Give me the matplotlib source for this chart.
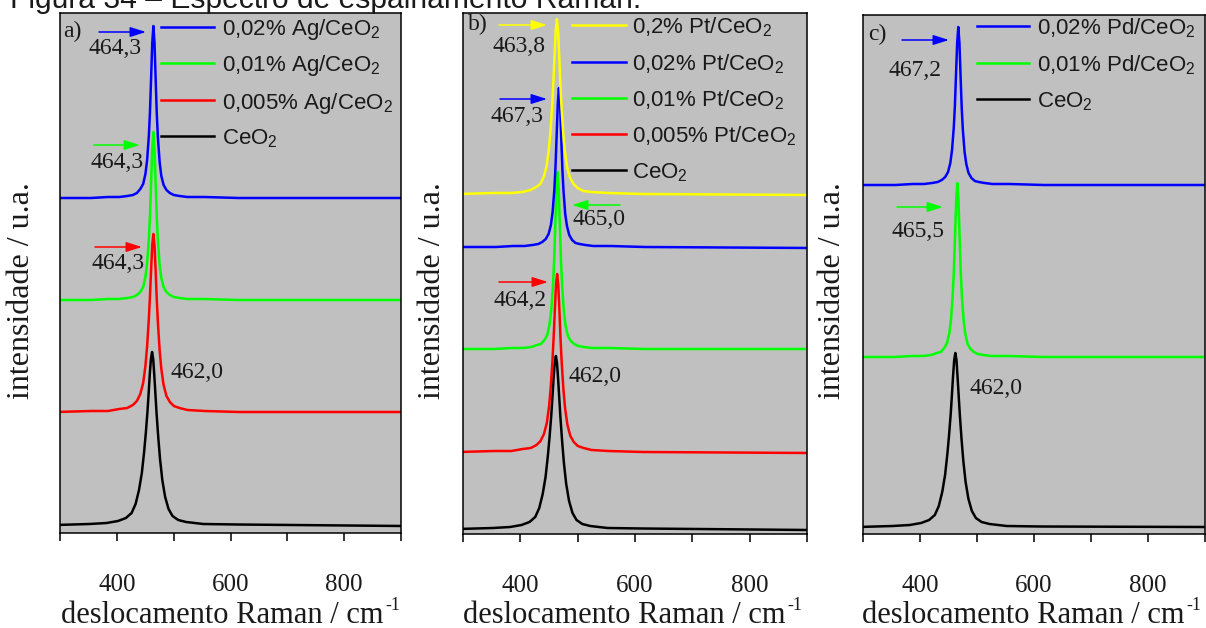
import matplotlib
matplotlib.use("Agg")
import matplotlib.pyplot as plt
from matplotlib.lines import Line2D
from matplotlib.patches import FancyArrowPatch
from matplotlib.ticker import FixedLocator

plt.rcParams["mathtext.fontset"] = "custom"
plt.rcParams["mathtext.rm"] = "Liberation Sans"
plt.rcParams["mathtext.it"] = "Liberation Sans:italic"
plt.rcParams["mathtext.bf"] = "Liberation Sans:bold"

# ---------------------------------------------------------------------------
# Raman spectra (intensity in arbitrary units, curves stacked with offsets).
# Each curve is sampled at its band position plus these offsets (cm-1).
# ---------------------------------------------------------------------------
offsets = [-170, -110, -80, -60, -46, -36, -29, -23, -18, -14, -11, -8, -6, -4, -2, 0,
           2, 4, 6, 8, 11, 14, 18, 23, 29, 36, 46, 60, 90, 150, 440]

# a) Ag/CeO2
a_labels = ["0,02% Ag/CeO$_2$", "0,01% Ag/CeO$_2$", "0,005% Ag/CeO$_2$", "CeO$_2$"]
a_colors = ["#0000ff", "#00ff00", "#ff0000", "#000000"]
a_peaks = [464.3, 464.3, 464.3, 462.0]
a_ag002 = [335, 335, 336, 336, 337, 338, 340, 344, 349, 359, 373, 397, 421, 455, 490, 507,
           490, 454, 419, 395, 371, 357, 348, 343, 340, 338, 337, 336, 336, 335, 335]
a_ag001 = [233, 233, 234, 234, 235, 236, 238, 241, 246, 256, 270, 294, 317, 351, 384, 401,
           384, 349, 315, 292, 268, 255, 246, 241, 238, 236, 235, 234, 234, 233, 233]
a_ag0005 = [121, 122, 122, 124, 125, 128, 132, 139, 150, 167, 187, 214, 237, 263, 288, 299,
            288, 262, 233, 210, 183, 164, 148, 137, 131, 127, 125, 123, 122, 121, 121]
a_ceo2 = [8, 9, 10, 12, 15, 20, 29, 43, 60, 81, 100, 122, 140, 159, 174, 181,
          174, 157, 138, 119, 95, 74, 53, 36, 24, 17, 13, 11, 9, 8.5, 7]

# b) Pt/CeO2
b_labels = ["0,2% Pt/CeO$_2$", "0,02% Pt/CeO$_2$", "0,01% Pt/CeO$_2$",
            "0,005% Pt/CeO$_2$", "CeO$_2$"]
b_colors = ["#ffff00", "#0000ff", "#00ff00", "#ff0000", "#000000"]
b_peaks = [463.8, 467.3, 465.0, 464.2, 462.0]
b_pt02 = [340, 341, 341, 342, 344, 347, 350, 357, 368, 385, 405, 431, 454, 480, 504, 515,
          504, 478, 450, 427, 401, 382, 366, 356, 350, 346, 343, 342, 341, 340, 339]
b_pt002 = [287, 287, 288, 288, 289, 290, 292, 295, 300, 309, 322, 344, 367, 398, 430, 446,
           430, 397, 365, 343, 320, 308, 299, 294, 291, 290, 289, 288, 288, 287, 286]
b_pt001 = [185, 185, 186, 186, 187, 189, 190, 194, 199, 210, 224, 249, 274, 309, 344, 362,
           344, 307, 272, 247, 222, 208, 198, 193, 190, 188, 187, 186, 186, 185, 185]
b_pt0005 = [82, 83, 83, 85, 86, 89, 93, 100, 111, 128, 148, 175, 198, 224, 249, 260,
            249, 223, 194, 171, 144, 125, 109, 98, 92, 88, 86, 84, 83, 82, 81]
b_ceo2 = [5, 6, 7, 9, 12, 17, 26, 40, 57, 78, 97, 119, 137, 156, 171, 178,
          171, 154, 135, 116, 92, 71, 50, 33, 21, 14, 10, 8, 6, 5.5, 4]

# c) Pd/CeO2
c_labels = ["0,02% Pd/CeO$_2$", "0,01% Pd/CeO$_2$", "CeO$_2$"]
c_colors = ["#0000ff", "#00ff00", "#000000"]
c_peaks = [467.2, 465.5, 462.0]
c_pd002 = [349, 349, 350, 350, 351, 352, 354, 357, 362, 371, 384, 406, 428, 460, 491, 507,
           491, 458, 426, 404, 382, 370, 361, 356, 353, 352, 351, 350, 350, 349, 349]
c_pd001 = [177, 177, 178, 178, 179, 181, 182, 186, 191, 201, 215, 240, 264, 299, 334, 351,
           334, 297, 262, 238, 214, 200, 190, 185, 182, 180, 179, 178, 178, 177, 177]
c_ceo2 = [7, 8, 9, 11, 14, 19, 28, 42, 59, 80, 99, 121, 139, 158, 174, 181,
          174, 156, 137, 118, 94, 73, 52, 35, 23, 16, 12, 10, 8, 7.5, 7]

xticks_major = [400, 600, 800]
xticks_minor = [300, 500, 700, 900]

W, H = 1206, 628
fig = plt.figure(figsize=(W / 100, H / 100), dpi=100)
fig.patch.set_facecolor("white")

SERIF = "Liberation Serif"
SANS = "Liberation Sans"
TXT = "#1a1a1a"


def add_panel(left, top, right, bottom):
    ax = fig.add_axes([left / W, 1 - bottom / H, (right - left) / W, (bottom - top) / H])
    ax.set_facecolor("#c0c0c0")
    ax.set_xlim(300, 900)
    ax.set_ylim(0, bottom - top)
    ax.xaxis.set_major_locator(FixedLocator(xticks_major))
    ax.xaxis.set_minor_locator(FixedLocator(xticks_minor))
    ax.tick_params(axis="x", which="both", direction="out", length=5.5, width=1.1,
                   top=False, pad=24, labelsize=18, colors="black")
    ax.tick_params(axis="x", which="minor", labelbottom=False)
    ax.tick_params(axis="y", which="both", left=False, labelleft=False)
    for lab in ax.get_xticklabels():
        lab.set_family(SERIF)
        lab.set_color(TXT)
    for sp in ax.spines.values():
        sp.set_linewidth(1.1)
    return ax


def plot_series(ax, peaks, series, colors):
    # bottom-most curve first
    for pk, ys, col in reversed(list(zip(peaks, series, colors))):
        xs = [pk + d for d in offsets]
        ax.plot(xs, ys, color=col, lw=1.8, solid_joinstyle="round")


def legend(entries, colors, x0, x1, xt, rows):
    for lab, col, y in zip(entries, colors, rows):
        fig.add_artist(Line2D([x0 / W, x1 / W], [1 - y / H, 1 - y / H],
                              transform=fig.transFigure, color=col, lw=1.8))
        fig.text(xt / W, 1 - (y + 8.5) / H, lab, family=SANS, fontsize=16,
                 ha="left", va="baseline", color=TXT, math_fontfamily="custom")


def arrow(tail, head, color):
    fig.add_artist(FancyArrowPatch(
        (tail[0] / W, 1 - tail[1] / H), (head[0] / W, 1 - head[1] / H),
        transform=fig.transFigure, arrowstyle="-|>,head_length=0.95,head_width=0.3",
        mutation_scale=10, color=color, lw=1.1, shrinkA=0, shrinkB=0))


def note(x, y, s, size=17):
    fig.text(x / W, 1 - y / H, s, family=SERIF, fontsize=size, ha="center",
             va="center", color=TXT)


# ---- panel a ----
ax_a = add_panel(60, 13, 401, 533)
plot_series(ax_a, a_peaks, [a_ag002, a_ag001, a_ag0005, a_ceo2], a_colors)
legend(a_labels, a_colors, 161, 214, 222, [27, 63, 100, 136])
arrow((99, 32), (146, 32), "#0000ff")
note(115, 49, "464,3")
arrow((94, 145), (140, 145), "#00ff00")
note(117, 162, "464,3")
arrow((95, 247), (142, 247), "#ff0000")
note(118, 263, "464,3")
note(197, 372, "462,0")
note(72, 31, "a)")

# ---- panel b ----
ax_b = add_panel(463, 13, 807, 534)
plot_series(ax_b, b_peaks, [b_pt02, b_pt002, b_pt001, b_pt0005, b_ceo2], b_colors)
legend(b_labels, b_colors, 572, 626, 632, [25, 62, 98, 134, 170])
arrow((499, 25), (547, 25), "#ffff00")
note(519, 46, "463,8")
arrow((500, 99), (547, 99), "#0000ff")
note(517, 117, "467,3")
arrow((620, 205), (572, 205), "#00ff00")
note(599, 220, "465,0")
arrow((499, 282), (548, 282), "#ff0000")
note(520, 301, "464,2")
note(595, 377, "462,0")
note(478, 24, "b)")

# ---- panel c ----
ax_c = add_panel(863, 15, 1205, 534)
plot_series(ax_c, c_peaks, [c_pd002, c_pd001, c_ceo2], c_colors)
legend(c_labels, c_colors, 977, 1029, 1037, [26, 63, 99])
arrow((902, 40), (949, 40), "#0000ff")
note(915, 71, "467,2")
arrow((897, 207), (943, 207), "#00ff00")
note(918, 232, "465,5")
note(996, 389, "462,0")
note(877, 34, "c)")

# ---- axis titles ----
for xc in (22, 433, 833):
    fig.text(xc / W, 1 - 291 / H, "intensidade / u.a.", rotation=90, family=SERIF,
             fontsize=23, ha="center", va="center", color=TXT)

renderer = fig.canvas.get_renderer()
for xc in (231, 633, 1032):
    main = fig.text(0, 1 - 623 / H, "deslocamento Raman / cm", family=SERIF,
                    fontsize=22, ha="left", va="baseline", color=TXT)
    sup = fig.text(0, 1 - 610 / H, "-1", family=SERIF, fontsize=13,
                   ha="left", va="baseline", color=TXT)
    wm = main.get_window_extent(renderer).width
    ws = sup.get_window_extent(renderer).width
    x0 = xc - (wm + ws + 2) / 2
    main.set_x(x0 / W)
    sup.set_x((x0 + wm + 2) / W)

# caption line running along the top edge
fig.text(10 / W, 1 - 8 / H, "Figura 34 – Espectro de espalhamento Raman.", family=SANS,
         fontsize=21.6, ha="left", va="baseline", color=TXT)

fig.savefig("out.png", dpi=100)
